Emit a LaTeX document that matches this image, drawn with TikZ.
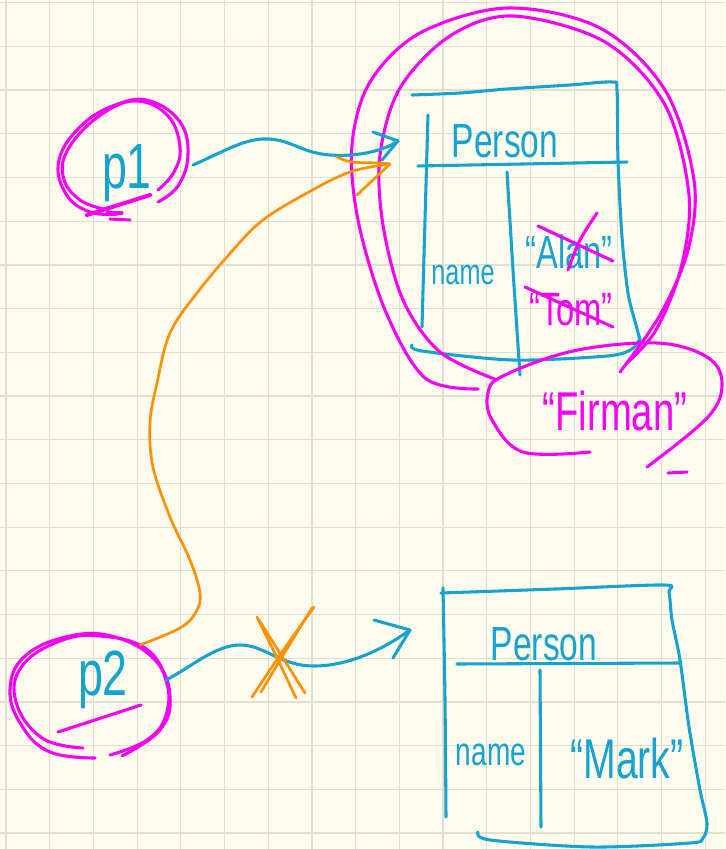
\documentclass[tikz,border=0pt]{standalone}
\usepackage{fontspec}
\newfontfamily\hand[FakeStretch=0.7]{Liberation Sans}
\definecolor{paper}{RGB}{254,252,238}
\definecolor{gridc}{RGB}{226,223,208}
\definecolor{ink}{RGB}{22,163,208}
\definecolor{pinkink}{RGB}{245,0,245}
\definecolor{orangeink}{RGB}{255,145,0}
\tikzset{
  gridline/.style={draw=gridc, line width=0.9pt},
  blueline/.style={draw=ink, line width=2.3pt, line cap=round, line join=round},
  pinkline/.style={draw=pinkink, line width=2.3pt, line cap=round, line join=round},
  orangeline/.style={draw=orangeink, line width=2pt, line cap=round, line join=round},
  handtext/.style={inner sep=0pt, anchor=base},
}
\newcommand{\handsz}[1]{\hand\fontsize{#1}{#1}\selectfont}
\begin{document}
\begin{tikzpicture}[x=0.75pt, y=-0.75pt]
  % paper and squared grid
  \fill[paper] (0,0) rectangle (725,849);
  \useasboundingbox (0,0) rectangle (725,849);
  \foreach \i in {0,...,16} \draw[gridline] ({6+43.7*\i},0) -- ({6+43.7*\i},849);
  \foreach \j in {0,...,19} \draw[gridline] (0,{2.7+43.7*\j}) -- (725,{2.7+43.7*\j});

  % ---------- first Person object ----------
  \draw[blueline] plot[smooth, tension=0.5] coordinates
    {(412,95) (460,93) (507,89) (570,85) (612,82) (617,90) (618,160) (622,237) (628,293) (636,325) (640,340)};
  \draw[blueline] plot[smooth, tension=0.5] coordinates
    {(412,345) (422,351) (513,360) (607,356) (632,349) (640,338)};
  \draw[blueline] plot[smooth, tension=0.5] coordinates {(428,115) (425,220) (422,327)};
  \draw[blueline] (418,166) -- (627,162);
  \draw[blueline] plot[smooth, tension=0.5] coordinates {(507,172) (513,270) (520,375)};
  \node[handtext, text=ink, font=\handsz{36pt}] (person1) at (505,157) {Person};
  \node[handtext, text=ink, font=\handsz{27pt}] (name1) at (463,284) {name};
  \node[handtext, text=ink, font=\handsz{35pt}] (alan) at (569,268) {“Alan”};
  \node[handtext, text=pinkink, font=\handsz{35pt}] (tom) at (571,325) {“Tom”};
  % crossed-out values
  \draw[pinkline] (538,226) -- (613,261);
  \draw[pinkline] plot[smooth] coordinates {(568,270) (580,240) (597,213)};
  \draw[pinkline] (525,287) -- (613,327);

  % ---------- second Person object ----------
  \draw[blueline] plot[smooth, tension=0.5] coordinates
    {(441,593) (555,589) (664,585) (669,592) (672,620) (680,660) (689,727) (700,790) (707,823) (703,838) (690,843) (592,847) (490,840) (478,832)};
  \draw[blueline] plot[smooth, tension=0.5] coordinates {(443,588) (445,700) (446,817)};
  \draw[blueline] (457,664) -- (680,663);
  \draw[blueline] (540,670) -- (541,827);
  \node[handtext, text=ink, font=\handsz{36pt}] (person2) at (544,660) {Person};
  \node[handtext, text=ink, font=\handsz{30pt}] (name2) at (491,765) {name};
  \node[handtext, text=ink, font=\handsz{42pt}] (mark) at (627,778) {“Mark”};

  % ---------- references ----------
  \node[handtext, text=ink, font=\handsz{48pt}] (p1) at (127,188) {p1};
  \node[handtext, text=ink, font=\handsz{48pt}] (p2) at (103,695) {p2};

  % rings round p1
  \draw[pinkline] plot[smooth, tension=0.7] coordinates
    {(158,202) (178,186) (188,155) (180,122) (150,101) (118,104) (82,125) (59,160) (66,194) (90,212) (118,214)};
  \draw[pinkline] plot[smooth, tension=0.7] coordinates
    {(158,190) (174,172) (180,147) (168,116) (137,101) (102,114) (70,146) (63,176) (80,200) (108,210)};
  \draw[pinkline] (107,213) -- (122,213);
  \draw[pinkline] (110,219) -- (130,220);
  \draw[pinkline, line width=3pt] (87,215) -- (150,195);

  % rings round p2
  \draw[pinkline] plot[smooth, tension=0.7] coordinates
    {(83,748) (42,738) (16,702) (22,666) (60,641) (100,636) (145,648) (166,680) (166,715) (147,740) (110,755)};
  \draw[pinkline] plot[smooth, tension=0.7] coordinates
    {(95,758) (50,752) (22,726) (10,690) (25,656) (70,636) (115,637) (155,660) (170,696) (160,730) (122,756)};
  \draw[pinkline] (58,732) -- (141,705);

  % rings round the first object
  \draw[pinkline] plot[smooth, tension=0.55] coordinates
    {(478,389) (425,378) (385,310) (358,220) (352,145) (370,82) (420,33) (507,8) (600,28) (665,90) (694,180) (688,250) (660,315) (620,372)};
  \draw[pinkline] plot[smooth, tension=0.55] coordinates
    {(497,380) (440,352) (403,300) (383,225) (380,155) (400,88) (450,36) (513,16) (605,42) (665,105) (689,195) (681,268) (656,330) (627,363)};

  % new value
  \draw[pinkline] plot[smooth, tension=0.6] coordinates
    {(590,452) (523,452) (492,420) (488,393) (503,376) (573,351) (657,343) (707,357) (722,383) (708,417) (647,467)};
  \draw[pinkline] (668,473) -- (687,472);
  \node[handtext, text=pinkink, font=\handsz{41pt}] (firman) at (615,430) {“Firman”};

  % ---------- connectors ----------
  \coordinate (p1out) at (193,165);
  \coordinate (box1in) at (398,141);
  \draw[blueline] (p1out) .. controls (225,151) and (245,138) .. (268,139)
    .. controls (292,140) and (302,153) .. (330,155)
    .. controls (360,157) and (385,150) .. (box1in);
  \draw[blueline] (373,132) -- (box1in) -- (382,160);

  \coordinate (p2up) at (140,645);
  \coordinate (box1in2) at (390,164);
  \draw[orangeline] plot[smooth, tension=0.6] coordinates
    {(p2up) (180,628) (196,612) (200,593) (190,560) (170,517) (153,467) (150,423) (157,383) (170,333) (197,293) (233,250) (263,220) (307,193) (350,172) (box1in2)};
  \draw[orangeline] plot[smooth, tension=0.6] coordinates {(337,157) (352,162) (380,163) (box1in2)};
  \draw[orangeline] (box1in2) -- (357,195);

  \coordinate (p2out) at (166,680);
  \coordinate (box2in) at (410,630);
  \draw[blueline] (p2out) .. controls (190,668) and (215,645) .. (240,645)
    .. controls (265,645) and (280,666) .. (314,666)
    .. controls (350,666) and (385,648) .. (box2in);
  \draw[blueline] (374,620) -- (box2in) -- (393,658);

  % cancelled link
  \draw[orangeline] plot[smooth] coordinates {(257,617) (278,660) (296,698)};
  \draw[orangeline] plot[smooth] coordinates {(259,620) (283,658) (305,693)};
  \draw[orangeline] plot[smooth] coordinates {(314,607) (282,652) (252,697)};
  \draw[orangeline] plot[smooth] coordinates {(312,608) (285,652) (261,692)};
\end{tikzpicture}
\end{document}
